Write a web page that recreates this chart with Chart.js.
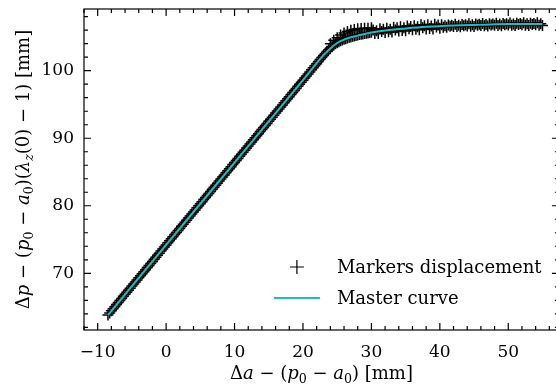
<!DOCTYPE html>
<html>
<head>
<meta charset="utf-8">
<script src="https://cdn.jsdelivr.net/npm/chart.js@4.4.0/dist/chart.umd.min.js"></script>
<style>
  html, body { margin: 0; padding: 0; background: #fff; overflow: hidden; }
  #wrap { width: 570px; height: 390px; }
</style>
</head>
<body>
<div id="wrap"><canvas id="chart" width="570" height="390"></canvas></div>
<script>
const xTicks = [-10, 0, 10, 20, 30, 40, 50];
const yTicks = [70, 80, 90, 100];

// master curve
const curveX = [-8.5, 0, 10, 20, 23, 24, 25, 26, 27, 28, 30, 32, 35, 38, 42, 46, 50, 55];
const curveY = [63.8, 74.2, 86.4, 98.6, 102.3, 103.3, 104.1, 104.6, 104.95, 105.2, 105.65, 105.95, 106.25, 106.5, 106.7, 106.8, 106.9, 106.9];

// markers displacement, read along the band
const markerX = [
  -8.5, -8.25, -8, -7.75, -7.5, -7.25, -7, -6.75, -6.5, -6.25, -6, -5.75, -5.5, -5.25, -5, -4.75,
  -4.5, -4.25, -4, -3.75, -3.5, -3.25, -3, -2.75, -2.5, -2.25, -2, -1.75, -1.5, -1.25, -1, -0.75, -0.5, -0.25,
  0, 0.25, 0.5, 0.75, 1, 1.25, 1.5, 1.75, 2, 2.25, 2.5, 2.75, 3, 3.25, 3.5, 3.75, 4, 4.25, 4.5, 4.75,
  5, 5.25, 5.5, 5.75, 6, 6.25, 6.5, 6.75, 7, 7.25, 7.5, 7.75, 8, 8.25, 8.5, 8.75, 9, 9.25, 9.5, 9.75,
  10, 10.25, 10.5, 10.75, 11, 11.25, 11.5, 11.75, 12, 12.25, 12.5, 12.75, 13, 13.25, 13.5, 13.75, 14, 14.25, 14.5, 14.75,
  15, 15.25, 15.5, 15.75, 16, 16.25, 16.5, 16.75, 17, 17.25, 17.5, 17.75, 18, 18.25, 18.5, 18.75, 19, 19.25, 19.5, 19.75,
  20, 20.25, 20.5, 20.75, 21, 21.25, 21.5, 21.75, 22, 22.25, 22.5, 22.75, 23, 23.25, 23.5, 23.75, 24, 24.25, 24.5, 24.75,
  25, 25.25, 25.5, 25.75, 26, 26.25, 26.5, 26.75, 27, 27.25, 27.5, 27.75, 28, 28.25, 28.5, 28.75, 29, 29.25, 29.5, 29.75,
  30, 30.25, 30.5, 30.75, 31, 31.25, 31.5, 31.75, 32, 32.25, 32.5, 32.75, 33, 33.25, 33.5, 33.75, 34, 34.25, 34.5, 34.75,
  35, 35.25, 35.5, 35.75, 36, 36.25, 36.5, 36.75, 37, 37.25, 37.5, 37.75, 38, 38.25, 38.5, 38.75, 39, 39.25, 39.5, 39.75,
  40, 40.25, 40.5, 40.75, 41, 41.25, 41.5, 41.75, 42, 42.25, 42.5, 42.75, 43, 43.25, 43.5, 43.75, 44, 44.25, 44.5, 44.75,
  45, 45.25, 45.5, 45.75, 46, 46.25, 46.5, 46.75, 47, 47.25, 47.5, 47.75, 48, 48.25, 48.5, 48.75, 49, 49.25, 49.5, 49.75,
  50, 50.25, 50.5, 50.75, 51, 51.25, 51.5, 51.75, 52, 52.25, 52.5, 52.75, 53, 53.25, 53.5, 53.75, 54, 54.25, 54.5, 54.75, 55
];
const markerY = [
  63.83, 64.13, 64.44, 64.74, 65.05, 65.36, 65.66, 65.97, 66.27, 66.58, 66.88, 67.19, 67.49, 67.80, 68.10, 68.41,
  68.71, 69.02, 69.32, 69.63, 69.93, 70.24, 70.54, 70.85, 71.15, 71.46, 71.76, 72.07, 72.37, 72.68, 72.98, 73.29, 73.59, 73.90,
  74.20, 74.51, 74.81, 75.12, 75.42, 75.73, 76.03, 76.34, 76.64, 76.95, 77.25, 77.56, 77.86, 78.17, 78.47, 78.78, 79.08, 79.39, 79.69, 80.00,
  80.30, 80.61, 80.91, 81.22, 81.52, 81.83, 82.13, 82.44, 82.74, 83.05, 83.35, 83.66, 83.96, 84.27, 84.57, 84.88, 85.18, 85.49, 85.79, 86.10,
  86.40, 86.71, 87.01, 87.32, 87.62, 87.93, 88.23, 88.54, 88.84, 89.15, 89.45, 89.76, 90.06, 90.37, 90.67, 90.98, 91.28, 91.59, 91.89, 92.20,
  92.50, 92.81, 93.11, 93.42, 93.72, 94.03, 94.33, 94.64, 94.94, 95.25, 95.55, 95.86, 96.16, 96.47, 96.77, 97.08, 97.38, 97.69, 97.99, 98.30,
  98.60, 98.91, 99.21, 99.52, 99.82, 100.13, 100.43, 100.74, 101.04, 101.35, 101.65, 101.96, 102.26, 102.55, 102.85, 103.10, 103.35, 103.60, 103.80, 104.00,
  104.15, 104.30, 104.45, 104.55, 104.65, 104.75, 104.85, 104.95, 105.00, 105.10, 105.15, 105.20, 105.30, 105.35, 105.40, 105.45, 105.50, 105.55, 105.60, 105.65,
  105.70, 106.04, 105.53, 105.91, 105.50, 106.23, 105.81, 106.14, 105.67, 106.30, 105.77, 106.15, 105.73, 106.45, 106.03, 106.35, 105.88, 106.50, 105.97, 106.35,
  105.92, 106.64, 106.21, 106.53, 106.05, 106.67, 106.14, 106.50, 106.07, 106.79, 106.35, 106.67, 106.18, 106.79, 106.26, 106.62, 106.18, 106.89, 106.46, 106.77,
  106.28, 106.79, 106.45, 106.66, 106.42, 106.78, 106.59, 106.75, 106.56, 106.87, 106.53, 106.74, 106.50, 106.85, 106.66, 106.82, 106.63, 106.94, 106.59, 106.80,
  106.56, 106.92, 106.72, 106.88, 106.69, 107.00, 106.65, 106.86, 106.62, 106.97, 106.78, 106.93, 106.74, 107.04, 106.70, 106.90, 106.66, 107.01, 106.81, 106.97,
  106.77, 107.07, 106.72, 106.93, 106.68, 107.03, 106.83, 106.98, 106.79, 107.09, 106.74, 106.94, 106.69, 107.04, 106.85, 107.00, 106.80, 107.10, 106.75, 106.95, 106.70
];
// scattered markers above the knee
const upperX = [24, 24.5, 25, 25.5, 26, 26.5, 27, 27.5, 28, 28.5, 29, 29.5, 30];
const upperY = [104.0, 104.5, 104.9, 105.3, 105.6, 105.8, 106.0, 106.1, 106.2, 106.25, 106.3, 106.3, 106.35];

const X_MIN = -12;
const X_EDGE = 57.4;      // right spine (just past the visible window)
const X_PX = 6.843;       // pixels per x unit
const FONT = "'DejaVu Serif', serif";
const TICK_FS = 17;
const FS = 18;
const CYAN = '#1bbfbf';

const markerPts = markerX.map((x, i) => ({ x, y: markerY[i] }))
  .concat(upperX.map((x, i) => ({ x, y: upperY[i] })));
const curvePts = curveX.map((x, i) => ({ x, y: curveY[i] }));

// text with italics and subscripts
function richWidth(ctx, segs, size) {
  let w = 0;
  segs.forEach(s => {
    const sz = s.sub ? size * 0.7 : size;
    ctx.font = (s.it ? 'italic ' : '') + sz + 'px ' + FONT;
    w += ctx.measureText(s.t).width;
  });
  return w;
}
function drawRich(ctx, segs, x, y, size) {
  let cx = x - richWidth(ctx, segs, size) / 2;
  ctx.textBaseline = 'alphabetic';
  ctx.textAlign = 'left';
  segs.forEach(s => {
    const sz = s.sub ? size * 0.7 : size;
    ctx.font = (s.it ? 'italic ' : '') + sz + 'px ' + FONT;
    ctx.fillText(s.t, cx, s.sub ? y + size * 0.22 : y);
    cx += ctx.measureText(s.t).width;
  });
}

const xTitle = [
  { t: 'Δ' }, { t: 'a', it: true }, { t: ' − (' }, { t: 'p', it: true }, { t: '0', sub: true },
  { t: ' − ' }, { t: 'a', it: true }, { t: '0', sub: true }, { t: ') [mm]' }
];
const yTitle = [
  { t: 'Δ' }, { t: 'p', it: true }, { t: ' − (' }, { t: 'p', it: true }, { t: '0', sub: true },
  { t: ' − ' }, { t: 'a', it: true }, { t: '0', sub: true }, { t: ')(' }, { t: 'λ', it: true },
  { t: 'z', it: true, sub: true }, { t: '(0) − 1) [mm]' }
];

const framePlugin = {
  id: 'frame',
  afterLayout(chart) {
    // keep a fixed px-per-unit on x whatever width the layout gave
    const x = chart.scales.x;
    x.max = X_MIN + (x.right - x.left) / X_PX;
    x.configure();
  },
  afterDatasetsDraw(chart) {
    const { ctx, chartArea: a, scales: { x, y } } = chart;
    const left = a.left, right = x.getPixelForValue(X_EDGE);
    ctx.save();
    ctx.strokeStyle = '#000';
    ctx.lineWidth = 1.2;
    ctx.strokeRect(left, a.top, right - left, a.bottom - a.top);
    ctx.beginPath();
    for (let v = -12; v <= 56; v += 2) {
      const px = x.getPixelForValue(v);
      if (px < left) continue;
      const len = xTicks.includes(v) ? 7 : 4;
      ctx.moveTo(px, a.bottom); ctx.lineTo(px, a.bottom - len);
      ctx.moveTo(px, a.top); ctx.lineTo(px, a.top + len);
    }
    for (let v = 62; v <= 108; v += 2) {
      const py = y.getPixelForValue(v);
      const len = yTicks.includes(v) ? 7 : 4;
      ctx.moveTo(left, py); ctx.lineTo(left + len, py);
      ctx.moveTo(right, py); ctx.lineTo(right - len, py);
    }
    ctx.stroke();

    // legend, lower right
    const lx = right - 262, ly1 = a.bottom - 63, ly2 = a.bottom - 32;
    ctx.lineWidth = 1.2;
    ctx.beginPath();
    ctx.moveTo(lx - 7, ly1); ctx.lineTo(lx + 7, ly1);
    ctx.moveTo(lx, ly1 - 7); ctx.lineTo(lx, ly1 + 7);
    ctx.stroke();
    ctx.strokeStyle = CYAN;
    ctx.lineWidth = 2;
    ctx.beginPath();
    ctx.moveTo(lx - 23, ly2); ctx.lineTo(lx + 23, ly2);
    ctx.stroke();
    ctx.fillStyle = '#000';
    ctx.font = FS + 'px ' + FONT;
    ctx.textAlign = 'left';
    ctx.textBaseline = 'middle';
    ctx.fillText('Markers displacement', lx + 40, ly1 + 1);
    ctx.fillText('Master curve', lx + 40, ly2 + 1);

    // axis titles
    drawRich(ctx, xTitle, (left + right) / 2, 379, FS);
    ctx.translate(29, (a.top + a.bottom) / 2);
    ctx.rotate(-Math.PI / 2);
    drawRich(ctx, yTitle, 0, 0, FS);
    ctx.restore();
  }
};

new Chart(document.getElementById('chart'), {
  type: 'scatter',
  data: {
    datasets: [
      {
        label: 'Markers displacement',
        data: markerPts,
        pointStyle: 'cross',
        pointRadius: 5.5,
        pointHoverRadius: 5.5,
        borderColor: '#000',
        backgroundColor: '#000',
        borderWidth: 1.5,
        showLine: false,
        order: 2
      },
      {
        label: 'Master curve',
        data: curvePts,
        showLine: true,
        borderColor: CYAN,
        borderWidth: 2,
        pointRadius: 0,
        cubicInterpolationMode: 'monotone',
        order: 1
      }
    ]
  },
  options: {
    responsive: false,
    animation: false,
    devicePixelRatio: 1,
    layout: { padding: { top: 9, right: 0, left: 0, bottom: 0 } },
    plugins: { legend: { display: false }, tooltip: { enabled: false } },
    scales: {
      x: {
        type: 'linear',
        min: X_MIN,
        max: 58,
        grid: { display: false, drawTicks: false },
        border: { display: false },
        afterBuildTicks: s => { s.ticks = xTicks.map(v => ({ value: v })); },
        afterFit: s => { s.height = 60; s.paddingLeft = 0; s.paddingRight = 0; },
        ticks: {
          color: '#000',
          padding: 12,
          font: { family: FONT, size: TICK_FS },
          callback: v => (v < 0 ? '−' + Math.abs(v) : v)
        }
      },
      y: {
        type: 'linear',
        min: 61.6,
        max: 109.14,
        grid: { display: false, drawTicks: false },
        border: { display: false },
        afterBuildTicks: s => { s.ticks = yTicks.map(v => ({ value: v })); },
        afterFit: s => { s.width = 84; s.paddingTop = 0; s.paddingBottom = 0; },
        ticks: {
          color: '#000',
          padding: 10,
          font: { family: FONT, size: TICK_FS }
        }
      }
    }
  },
  plugins: [framePlugin]
});
</script>
</body>
</html>
